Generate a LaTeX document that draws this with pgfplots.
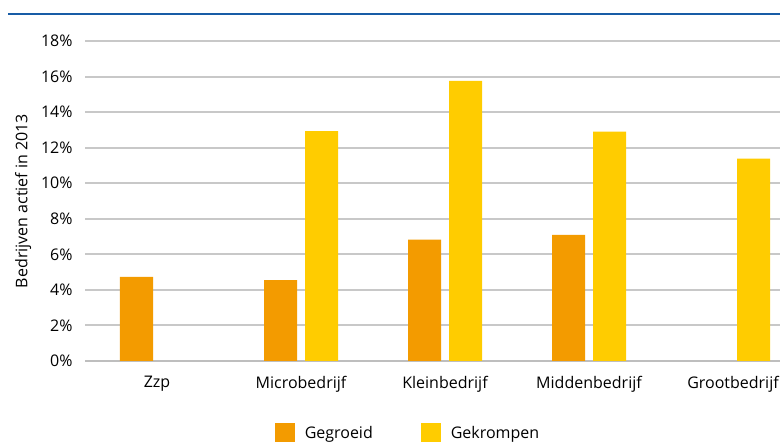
\documentclass[border=0pt]{standalone}
\usepackage{fontspec}
\setmainfont{Open Sans}
\usepackage{pgfplots}
\pgfplotsset{compat=1.18}

\definecolor{groei}{RGB}{243,155,0}
\definecolor{krimp}{RGB}{255,204,0}
\definecolor{gridgray}{RGB}{200,200,200}
\definecolor{axisgray}{RGB}{190,190,190}
\definecolor{topblue}{RGB}{24,92,166}

\begin{document}
\begin{tikzpicture}[font=\fontsize{16bp}{19bp}\selectfont]
\draw[topblue, line width=2.5bp] (8bp,428bp) -- (790bp,428bp);
\begin{axis}[
  at={(85bp,81bp)}, anchor=south west,
  scale only axis, width=720bp, height=320bp,
  xmin=-0.5, xmax=4.5, ymin=0, ymax=18,
  ybar=8bp, bar width=33bp,
  axis x line=bottom, axis y line=left,
  y axis line style={draw=none},
  x axis line style={draw=axisgray, line width=2bp, -},
  major tick length=0pt,
  xtick={0,1,2,3,4},
  xticklabels={Zzp,Microbedrijf,Kleinbedrijf,Middenbedrijf,Grootbedrijf},
  xticklabel style={yshift=-12bp},
  ytick={0,2,...,18},
  yticklabel={\pgfmathprintnumber{\tick}\%},
  yticklabel style={xshift=-9bp},
  /pgf/number format/assume math mode=true,
  ymajorgrids, grid style={gridgray, line width=2bp},
  ylabel={Bedrijven actief in 2013},
  ylabel style={yshift=3bp},
  legend style={draw=none, fill=none, legend columns=2,
    at={(0.4486,-0.225)}, anchor=center,
    /tikz/every odd column/.append style={column sep=8bp},
    /tikz/every even column/.append style={column sep=46bp},
    legend cell align=left},
  legend image code/.code={\fill[#1] (0bp,-10bp) rectangle (20bp,10bp);},
]
\addplot[fill=groei, draw=none] coordinates {(0,4.73) (1,4.55) (2,6.83) (3,7.1)};
\addplot[fill=krimp, draw=none] coordinates {(1,12.93) (2,15.76) (3,12.9) (4,11.38)};
\legend{Gegroeid, Gekrompen}
\end{axis}
\pgfresetboundingbox
\path[use as bounding box] (0,0) rectangle (780bp,442bp);
\end{tikzpicture}
\end{document}
